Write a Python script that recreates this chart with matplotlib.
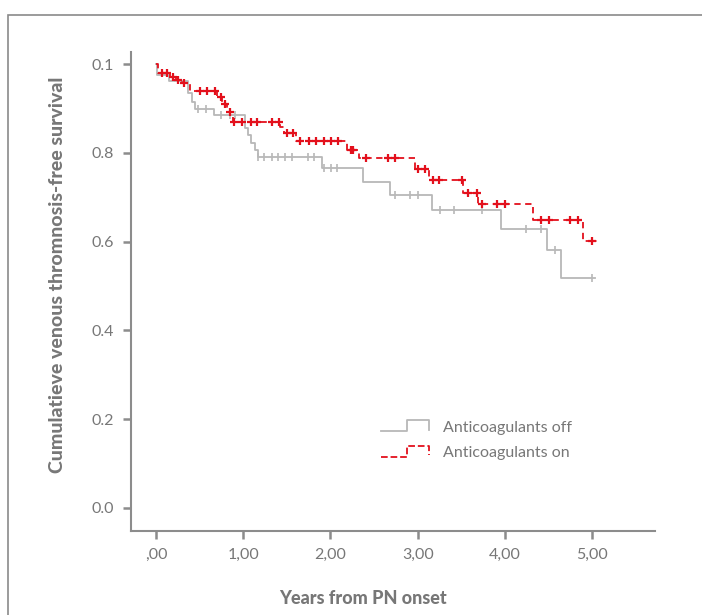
import numpy as np
import matplotlib
matplotlib.use("Agg")
import matplotlib.pyplot as plt
from matplotlib.lines import Line2D
from matplotlib.legend_handler import HandlerBase
from matplotlib.patches import Rectangle

plt.rcParams['font.family'] = ['Lato', 'DejaVu Sans']

# Anticoagulants off (grey) - step times and survival after each step
off_t = [0.0, 0.01, 0.15, 0.37, 0.41, 0.45, 0.665, 1.02, 1.06, 1.085, 1.135, 1.165,
         1.90, 2.37, 2.68, 3.16, 3.95, 4.48, 4.64]
off_s = [1.0, 0.975, 0.961, 0.934, 0.915, 0.899, 0.885, 0.856, 0.840, 0.822, 0.806, 0.790,
         0.765, 0.735, 0.706, 0.671, 0.628, 0.580, 0.517]
off_end = 5.03
off_cens = [0.485, 0.573, 0.742, 0.849, 0.906, 1.166, 1.242, 1.327, 1.402, 1.479, 1.556,
            1.74, 1.815, 1.93, 2.007, 2.08, 2.74, 2.91, 3.0, 3.25, 3.417, 3.742, 4.243,
            4.41, 4.576, 4.997]

# Anticoagulants on (red)
on_t = [0.0, 0.02, 0.16, 0.23, 0.30, 0.39, 0.70, 0.76, 0.815, 0.88, 1.42, 1.47, 1.60,
        2.19, 2.33, 2.97, 3.13, 3.52, 3.69, 4.32, 4.89]
on_s = [1.0, 0.979, 0.971, 0.964, 0.958, 0.939, 0.925, 0.911, 0.893, 0.870, 0.857, 0.844,
        0.827, 0.806, 0.789, 0.764, 0.739, 0.710, 0.685, 0.649, 0.602]
on_end = 5.05
on_cens = [0.07, 0.13, 0.19, 0.25, 0.325, 0.50, 0.58, 0.68, 0.74, 0.79, 0.85, 0.895, 0.99,
           1.085, 1.155, 1.327, 1.414, 1.499, 1.575, 1.651, 1.755, 1.835, 1.92, 2.007,
           2.09, 2.233, 2.26, 2.41, 2.664, 2.74, 3.0, 3.085, 3.18, 3.24, 3.506, 3.575,
           3.68, 3.742, 3.907, 4.003, 4.41, 4.5, 4.75, 4.84, 4.997]

xticks = [0, 1, 2, 3, 4, 5]
xticklabels = [',00', '1,00', '2,00', '3,00', '4,00', '5,00']
yticks = [0.0, 0.2, 0.4, 0.6, 0.8, 1.0]
yticklabels = ['0.0', '0.2', '0.4', '0.6', '0.8', '0.1']

GREY_LINE = '#b8b8b8'
RED = '#e3101c'
TXT = '#777777'
AX = '#8c8c8c'


class StepHandler(HandlerBase):
    def create_artists(self, legend, orig, xd, yd, w, h, fontsize, trans):
        xs = [-xd, -xd + 0.55 * w, -xd + 0.55 * w, -xd + w, -xd + w]
        ys = [-yd + 0.05 * h, -yd + 0.05 * h, -yd + 0.95 * h, -yd + 0.95 * h, -yd + 0.2 * h]
        ln = Line2D(xs, ys, color=orig.get_color(), linestyle=orig.get_linestyle(),
                    linewidth=orig.get_linewidth())
        ln.set_transform(trans)
        return [ln]


def step_xy(t, s, end):
    return np.append(t, end), np.append(s, s[-1])


def surv_at(t, s, tc):
    idx = np.searchsorted(t, tc, side='right') - 1
    return np.asarray(s)[idx]


fig = plt.figure(figsize=(7.02, 6.15), dpi=100)
fig.patches.append(Rectangle((0.0114, -0.1), 1.2, 1.0756, transform=fig.transFigure,
                             fill=False, edgecolor='#8a8a8a', linewidth=1.2))
ax = fig.add_axes([0.1866, 0.1366, 0.7464, 0.7788])

x, y = step_xy(off_t, off_s, off_end)
h_off, = ax.step(x, y, where='post', color=GREY_LINE, lw=1.3, label='Anticoagulants off')
ax.plot(off_cens, surv_at(off_t, off_s, off_cens), linestyle='none', marker='|',
        markersize=6, mew=1.2, color=GREY_LINE)

x, y = step_xy(on_t, on_s, on_end)
h_on, = ax.step(x, y, where='post', color=RED, lw=1.3, linestyle=(0, (3.5, 2.5)),
                label='Anticoagulants on')
ax.plot(on_cens, surv_at(on_t, on_s, on_cens), linestyle='none', marker='+',
        markersize=6, mew=1.6, color=RED)

ax.set_xlim(-0.287, 5.72)
ax.set_ylim(-0.052, 1.027)
ax.set_xticks(xticks)
ax.set_xticklabels(xticklabels)
ax.set_yticks(yticks)
ax.set_yticklabels(yticklabels)

for side in ['top', 'right']:
    ax.spines[side].set_visible(False)
for side in ['left', 'bottom']:
    ax.spines[side].set_color(AX)
    ax.spines[side].set_linewidth(1.5)
ax.tick_params(colors=AX, labelcolor=TXT, width=1.8, length=6, labelsize=11.5, pad=6)

ax.set_xlabel('Years from PN onset', fontsize=13, fontweight='black', color=TXT)
ax.xaxis.set_label_coords(0.443, -0.123)
ax.set_ylabel('Cumulatieve venous thromnosis-free survival', fontsize=14,
              fontweight='black', color=TXT)
ax.yaxis.set_label_coords(-0.124, 0.534)

leg = ax.legend(handles=[h_off, h_on], loc='upper left', bbox_to_anchor=(0.449, 0.262),
                frameon=False, fontsize=11.5, handlelength=3.0, handleheight=0.8,
                handletextpad=0.9, labelspacing=0.7,
                handler_map={Line2D: StepHandler()})
for t in leg.get_texts():
    t.set_color(TXT)

fig.savefig('out.png', dpi=100)
